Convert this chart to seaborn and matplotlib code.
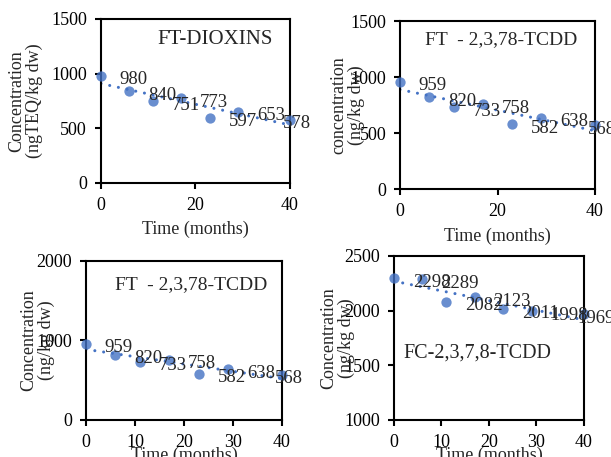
import matplotlib
matplotlib.use("Agg")
import matplotlib.pyplot as plt
import seaborn as sns

# дані (місяці та концентрації)
months = [0, 6, 11, 17, 23, 29, 40]
dioxins = [980, 840, 751, 773, 597, 653, 578]
tcdd_ft = [959, 820, 733, 758, 582, 638, 568]
tcdd_fc = [2298, 2289, 2082, 2123, 2011, 1998, 1969]

titles = ["FT-DIOXINS", "FT  - 2,3,78-TCDD", "FT  - 2,3,78-TCDD", "FC-2,3,7,8-TCDD"]
ylabels = ["Concentration\n(ngTEQ/kg dw)", "concentration\n(ng/kg dw)",
           "Concentration\n(ng/kg dw)", "Concentration\n(ng/kg dw)"]
series = [dioxins, tcdd_ft, tcdd_ft, tcdd_fc]
yticks = [[0, 500, 1000, 1500], [0, 500, 1000, 1500],
          [0, 1000, 2000], [1000, 1500, 2000, 2500]]
xticks = [[0, 20, 40], [0, 20, 40], [0, 10, 20, 30, 40], [0, 10, 20, 30, 40]]

sns.set_style("ticks")
plt.rcParams["font.family"] = ["Liberation Serif", "DejaVu Serif"]
plt.rcParams["axes.linewidth"] = 1.5
plt.rcParams["axes.edgecolor"] = "black"

blue = "#4472C4"

fig = plt.figure(figsize=(6.11, 4.57), dpi=100)

# розташування панелей
boxes = [[0.1653, 0.5996, 0.3093, 0.3589],
         [0.6547, 0.5864, 0.3191, 0.3676],
         [0.1408, 0.0810, 0.3208, 0.3479],
         [0.6448, 0.0810, 0.3110, 0.3589]]
title_pos = [(0.603, 0.872), (0.518, 0.887), (0.536, 0.849), (0.44, 0.41)]
title_size = [15, 14, 14, 14.5]
ylab_x = [-0.307, -0.18, -0.158, -0.205]
xlab_y = [-0.232, -0.232, -0.165, -0.165]

for i in range(4):
    ax = fig.add_axes(boxes[i])
    vals = series[i]
    sns.regplot(x=months, y=vals, ax=ax, ci=None,
                scatter_kws=dict(s=55, color=blue, linewidths=0, clip_on=False, zorder=3),
                line_kws=dict(color=blue, lw=2.2, ls=(0, (0.01, 2.9)),
                              dash_capstyle="round", zorder=2))
    ax.set_xlim(0, 40)
    ax.set_ylim(yticks[i][0], yticks[i][-1])
    ax.set_xticks(xticks[i])
    ax.set_yticks(yticks[i])
    ax.tick_params(length=4, width=1.5, pad=6, labelsize=13, colors="black")
    for sp in ax.spines.values():
        sp.set_visible(True)
        sp.set_linewidth(1.5)
    ax.set_xlabel("Time (months)", fontsize=13)
    ax.xaxis.set_label_coords(0.5, xlab_y[i])
    ax.set_ylabel(ylabels[i], fontsize=13, linespacing=1.0)
    ax.yaxis.set_label_coords(ylab_x[i], 0.5)
    ax.text(title_pos[i][0], title_pos[i][1], titles[i], transform=ax.transAxes,
            ha="center", va="center", fontsize=title_size[i])
    for j, (xv, yv) in enumerate(zip(months, vals)):
        dx = -5 if j == len(vals) - 1 else 13.5
        ax.annotate(str(yv), (xv, yv), xytext=(dx, -3), textcoords="offset points",
                    ha="left", va="center", fontsize=13.5, zorder=4,
                    annotation_clip=False)

fig.savefig("out.png", dpi=100)
